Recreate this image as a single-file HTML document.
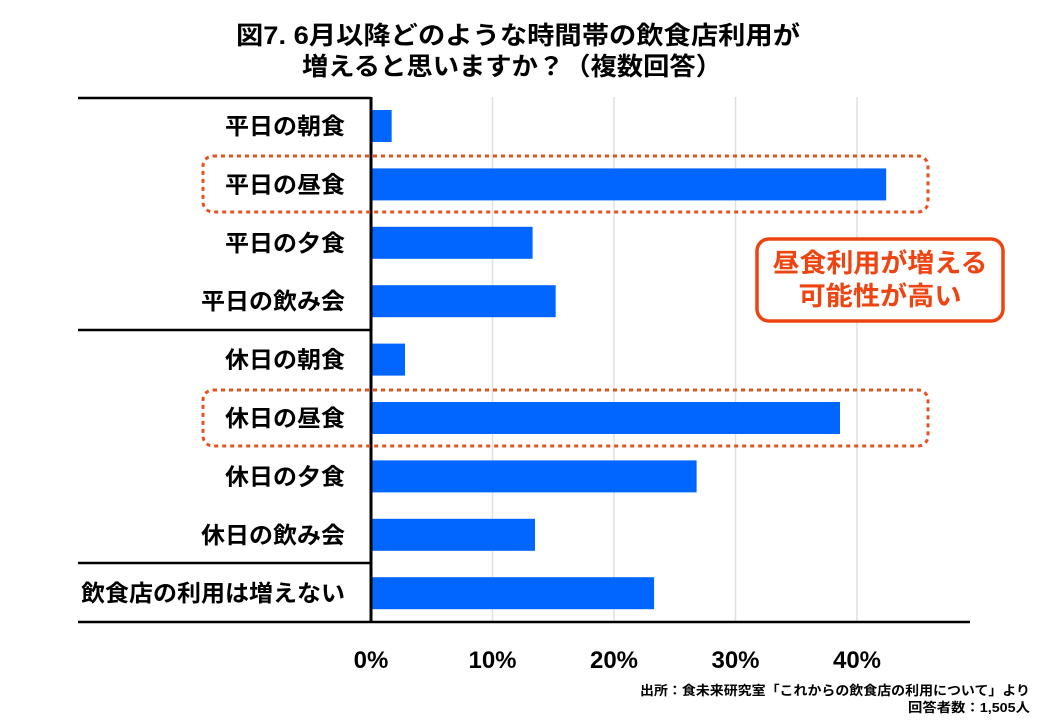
<!DOCTYPE html>
<html><head><meta charset="utf-8">
<style>
body{margin:0;background:#fff;}
svg text{font-family:"Liberation Sans","Noto Sans CJK JP",sans-serif;font-weight:bold;}
</style></head>
<body>
<svg id="chart" width="1040" height="720" viewBox="0 0 1040 720">
<g>
<text x="518" y="44" text-anchor="middle" font-size="25" fill="#000" textLength="564" lengthAdjust="spacingAndGlyphs">図7. 6月以降どのような時間帯の飲食店利用が</text>
<text x="512" y="75" text-anchor="middle" font-size="25" fill="#000" textLength="420" lengthAdjust="spacingAndGlyphs">増えると思いますか？（複数回答）</text>
</g>
<g id="grid"></g>
<g id="bars"></g>
<g id="labels"></g>
<g id="ticks"></g>
<g>
<line x1="371" y1="97" x2="371" y2="622" stroke="#000" stroke-width="3"/>
<line x1="78" y1="98" x2="371" y2="98" stroke="#000" stroke-width="2.5"/>
<line x1="78" y1="330" x2="371" y2="330" stroke="#000" stroke-width="2.5"/>
<line x1="78" y1="563" x2="371" y2="563" stroke="#000" stroke-width="2.5"/>
<line x1="78" y1="622" x2="970" y2="622" stroke="#000" stroke-width="2.5"/>
</g>
<rect x="203" y="156" width="725" height="56" rx="10" fill="none" stroke="#e8501e" stroke-width="3" stroke-dasharray="4,4"/>
<rect x="203" y="390" width="725" height="56" rx="10" fill="none" stroke="#e8501e" stroke-width="3" stroke-dasharray="4,4"/>
<g>
<rect x="757" y="239" width="246" height="82" rx="12" fill="#fff" stroke="#ee4411" stroke-width="3.5"/>
<text x="880" y="272" text-anchor="middle" font-size="26" fill="#ee4411" textLength="215" lengthAdjust="spacingAndGlyphs">昼食利用が増える</text>
<text x="880" y="305" text-anchor="middle" font-size="26" fill="#ee4411" textLength="163" lengthAdjust="spacingAndGlyphs">可能性が高い</text>
</g>
<g>
<text x="1030" y="695" text-anchor="end" font-size="13" fill="#000" textLength="390" lengthAdjust="spacingAndGlyphs">出所：食未来研究室「これからの飲食店の利用について」より</text>
<text x="1030" y="712" text-anchor="end" font-size="13" fill="#000" textLength="122" lengthAdjust="spacingAndGlyphs">回答者数：1,505人</text>
</g>
</svg>
<script>
const categories=["平日の朝食","平日の昼食","平日の夕食","平日の飲み会","休日の朝食","休日の昼食","休日の夕食","休日の飲み会","飲食店の利用は増えない"];
const values=[1.7,42.4,13.3,15.2,2.8,38.6,26.8,13.5,23.3];
const tickValues=[0,10,20,30,40];
const tickLabels=["0%","10%","20%","30%","40%"];
const NS="http://www.w3.org/2000/svg";
const x=v=>371+v*12.15;
const y=i=>126+i*58.4;
function mk(t,a,p){const e=document.createElementNS(NS,t);for(const k in a)e.setAttribute(k,a[k]);p.appendChild(e);return e;}
const grid=document.getElementById('grid'),bars=document.getElementById('bars'),labels=document.getElementById('labels'),ticks=document.getElementById('ticks');
tickValues.forEach((v,i)=>{
 if(v>0){const g=mk('line',{x1:x(v),x2:x(v),y1:97,y2:622,stroke:'#e0e0e0','stroke-width':1.5},grid);
 
 }
 const t=mk('text',{x:x(v),y:668,'text-anchor':'middle','font-size':24,fill:'#000'},ticks);
 t.textContent=tickLabels[i];
 
 
});
categories.forEach((c,i)=>{
 const r=mk('rect',{x:372,y:y(i)-16,width:x(values[i])-372,height:32,fill:'#0066ff'},bars);
 
 
 const t=mk('text',{x:345,y:y(i)+8,'text-anchor':'end','font-size':23,fill:'#000'},labels);
 t.textContent=c;
 t.setAttribute('textLength',c.length*24);
 t.setAttribute('lengthAdjust','spacingAndGlyphs');
 
 
});
</script>
</body></html>
